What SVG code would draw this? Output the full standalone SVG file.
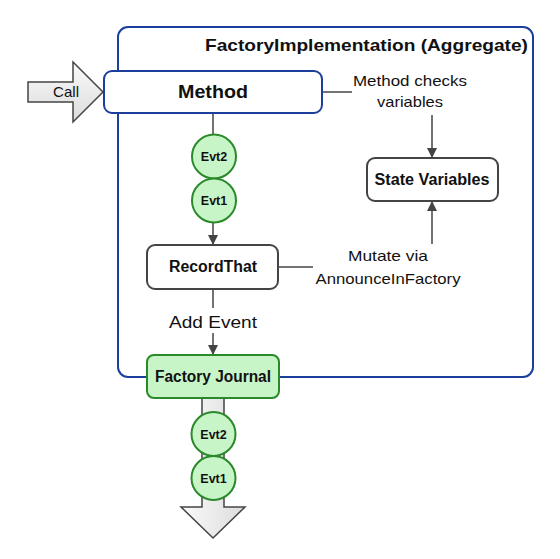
<svg xmlns="http://www.w3.org/2000/svg" width="560" height="559" viewBox="0 0 560 559">
<defs>
<linearGradient id="gray" x1="0" y1="0" x2="0" y2="1"><stop offset="0" stop-color="#fafafa"/><stop offset="1" stop-color="#dcdcdc"/></linearGradient>
<linearGradient id="grayh" x1="0" y1="0" x2="1" y2="0"><stop offset="0" stop-color="#fafafa"/><stop offset="1" stop-color="#dcdcdc"/></linearGradient>
<marker id="arr" markerWidth="10" markerHeight="10" refX="9" refY="5" orient="auto" markerUnits="userSpaceOnUse"><path d="M0,0 L10,5 L0,10 Z" fill="#444"/></marker>
<style>
text{font-family:"Liberation Sans",Arial,sans-serif;fill:#111}
.b{font-weight:bold}
.blue{fill:#fff;stroke:#1c3f9c;stroke-width:2}
.node{fill:#fff;stroke:#444;stroke-width:2}
.green{fill:#c8f5c8;stroke:#2a8a2a;stroke-width:2}
.ln{stroke:#444;stroke-width:1.5;fill:none}
.big{stroke:#444;stroke-width:1.5}
</style>
</defs>
<g id="container">
<rect x="118" y="27" width="415" height="350" rx="10" fill="#fff" stroke="#1c3f9c" stroke-width="2"/>
<text class="b" x="528" y="51" text-anchor="end" font-size="16.5" textLength="323" lengthAdjust="spacingAndGlyphs">FactoryImplementation (Aggregate)</text>
</g>
<g id="call">
<path class="big" d="M28,82 L73,82 L73,62 L103,92 L73,122 L73,102 L28,102 Z" fill="url(#gray)"/>
<text x="66" y="97" text-anchor="middle" font-size="15" textLength="26" lengthAdjust="spacingAndGlyphs">Call</text>
</g>
<g id="journal-out">
<path class="big" d="M202,398 L224,398 L224,507 L245,507 L213,538 L181,507 L202,507 Z" fill="url(#grayh)"/>
</g>
<g id="connectors">
<line class="ln" x1="213" y1="113" x2="213" y2="135"/>
<line class="ln" x1="213" y1="222" x2="213" y2="244" marker-end="url(#arr)"/>
<line class="ln" x1="322" y1="92" x2="352" y2="92"/>
<line class="ln" x1="432" y1="115" x2="432" y2="157" marker-end="url(#arr)"/>
<line class="ln" x1="432" y1="244" x2="432" y2="202" marker-end="url(#arr)"/>
<line class="ln" x1="278" y1="267" x2="313" y2="267"/>
<line class="ln" x1="213" y1="289" x2="213" y2="308"/>
<line class="ln" x1="213" y1="333" x2="213" y2="354" marker-end="url(#arr)"/>
<text x="410" y="86" text-anchor="middle" font-size="15" textLength="114" lengthAdjust="spacingAndGlyphs">Method checks</text>
<text x="410" y="107" text-anchor="middle" font-size="15" textLength="66" lengthAdjust="spacingAndGlyphs">variables</text>
<text x="388" y="261" text-anchor="middle" font-size="15" textLength="80" lengthAdjust="spacingAndGlyphs">Mutate via</text>
<text x="388" y="284" text-anchor="middle" font-size="15" textLength="145" lengthAdjust="spacingAndGlyphs">AnnounceInFactory</text>
<text x="213" y="328" text-anchor="middle" font-size="17" textLength="88" lengthAdjust="spacingAndGlyphs">Add Event</text>
</g>
<g id="method">
<rect class="blue" x="104" y="71" width="218" height="42" rx="8"/>
<text class="b" x="213" y="98" text-anchor="middle" font-size="18" textLength="70" lengthAdjust="spacingAndGlyphs">Method</text>
</g>
<g id="evt2-a">
<circle class="green" cx="214" cy="156.5" r="22"/>
<text class="b" x="214" y="161" text-anchor="middle" font-size="12.5">Evt2</text>
</g>
<g id="evt1-a">
<circle class="green" cx="214" cy="200.5" r="22"/>
<text class="b" x="214" y="205" text-anchor="middle" font-size="12.5">Evt1</text>
</g>
<g id="state-variables">
<rect class="node" x="367" y="158" width="131" height="43" rx="8"/>
<text class="b" x="432" y="185" text-anchor="middle" font-size="16" textLength="115" lengthAdjust="spacingAndGlyphs">State Variables</text>
</g>
<g id="recordthat">
<rect class="node" x="147" y="245" width="131" height="44" rx="8"/>
<text class="b" x="213" y="272" text-anchor="middle" font-size="16" textLength="88" lengthAdjust="spacingAndGlyphs">RecordThat</text>
</g>
<g id="factory-journal">
<rect class="green" x="147" y="355" width="132" height="43" rx="7"/>
<text class="b" x="213" y="382" text-anchor="middle" font-size="16" textLength="116" lengthAdjust="spacingAndGlyphs">Factory Journal</text>
</g>
<g id="evt2-b">
<circle class="green" cx="213.5" cy="434" r="22"/>
<text class="b" x="213.5" y="438.5" text-anchor="middle" font-size="12.5">Evt2</text>
</g>
<g id="evt1-b">
<circle class="green" cx="213.5" cy="478" r="22"/>
<text class="b" x="213.5" y="482.5" text-anchor="middle" font-size="12.5">Evt1</text>
</g>
</svg>
